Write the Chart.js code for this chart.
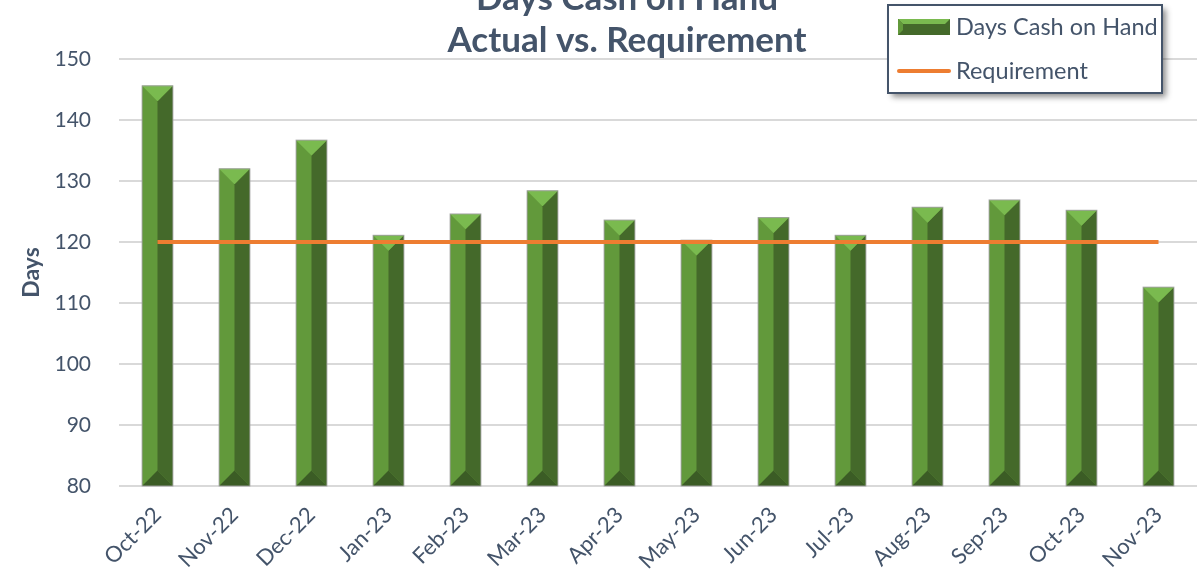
<!DOCTYPE html>
<html lang="en">
<head>
<meta charset="UTF-8">
<title>Days Cash on Hand</title>
<script src="https://cdn.jsdelivr.net/npm/chart.js"></script>
<style>
  html, body { margin: 0; padding: 0; background: #fff; }
  #wrap { width: 1201px; height: 569px; }
</style>
</head>
<body>
<div id="wrap"><canvas id="cashChart"></canvas></div>
<script>
// chart data
const months = ["Oct-22", "Nov-22", "Dec-22", "Jan-23", "Feb-23", "Mar-23", "Apr-23",
                "May-23", "Jun-23", "Jul-23", "Aug-23", "Sep-23", "Oct-23", "Nov-23"];
const daysCash = [145.6, 132.0, 136.7, 121.1, 124.6, 128.4, 123.6,
                  120.3, 124.0, 121.1, 125.7, 126.9, 125.2, 112.6];
const requirement = [120, 120, 120, 120, 120, 120, 120, 120, 120, 120, 120, 120, 120, 120];
const yMin = 80, yMax = 150, yStep = 10;
const titleLines = ["Days Cash on Hand", "Actual vs. Requirement"];
const yTitle = "Days";

const textColor = "#44546A";
const green = { left: "#62993B", right: "#44692A", top: "#7ABA4F", bottom: "#3B5C25" };

// bars are drawn as bevelled columns (light left face, dark right face)
const bevelBars = {
    id: "bevelBars",
    afterDatasetDraw(chart, args) {
        if (chart.data.datasets[args.index].type !== "bar") return;
        const ctx = chart.ctx;
        const area = chart.chartArea;
        ctx.save();
        args.meta.data.forEach(bar => {
            const p = bar.getProps(["x", "y", "base", "width"], true);
            const l = p.x - p.width / 2, r = p.x + p.width / 2, s = p.width / 2;
            const t = Math.max(p.y, area.top), b = Math.min(p.base, area.bottom);
            const poly = (pts, color) => {
                ctx.beginPath();
                ctx.moveTo(pts[0][0], pts[0][1]);
                pts.slice(1).forEach(q => ctx.lineTo(q[0], q[1]));
                ctx.closePath();
                ctx.fillStyle = color;
                ctx.fill();
            };
            poly([[l, t], [p.x, t + s], [p.x, b - s], [l, b]], green.left);
            poly([[r, t], [p.x, t + s], [p.x, b - s], [r, b]], green.right);
            poly([[l, t], [r, t], [p.x, t + s]], green.top);
            poly([[l, b], [r, b], [p.x, b - s]], green.bottom);
            ctx.strokeStyle = "rgba(160,160,160,0.9)";
            ctx.lineWidth = 1;
            ctx.strokeRect(l, t, p.width, b - t);
        });
        ctx.restore();
    }
};

// two line title, drawn partly above the top edge like the original
const chartTitle = {
    id: "chartTitle",
    afterDraw(chart) {
        const ctx = chart.ctx;
        ctx.save();
        ctx.fillStyle = textColor;
        ctx.font = "bold 35px Lato";
        ctx.textAlign = "center";
        ctx.textBaseline = "alphabetic";
        ctx.fillText(titleLines[0], 627, 10);
        ctx.fillText(titleLines[1], 627, 52);
        ctx.restore();
    }
};

// boxed legend in the top right corner
const boxLegend = {
    id: "boxLegend",
    afterDraw(chart) {
        const ctx = chart.ctx;
        const bx = 888, by = 5, bw = 274, bh = 88;
        ctx.save();
        ctx.shadowColor = "rgba(0,0,0,0.45)";
        ctx.shadowBlur = 6;
        ctx.shadowOffsetX = 4;
        ctx.shadowOffsetY = 4;
        ctx.fillStyle = "#fff";
        ctx.fillRect(bx, by, bw, bh);
        ctx.shadowColor = "transparent";
        ctx.strokeStyle = textColor;
        ctx.lineWidth = 2;
        ctx.strokeRect(bx, by, bw, bh);

        // bar swatch
        const sx = 898, sy = 19, sw = 52, sh = 16;
        ctx.fillStyle = green.right;
        ctx.fillRect(sx, sy, sw, sh);
        ctx.fillStyle = green.top;
        ctx.beginPath();
        ctx.moveTo(sx, sy); ctx.lineTo(sx + sw, sy);
        ctx.lineTo(sx + sw - 5, sy + 5); ctx.lineTo(sx + 5, sy + 5);
        ctx.closePath(); ctx.fill();
        ctx.fillStyle = green.left;
        ctx.beginPath();
        ctx.moveTo(sx, sy); ctx.lineTo(sx + 5, sy + 5);
        ctx.lineTo(sx + 5, sy + sh - 5); ctx.lineTo(sx, sy + sh);
        ctx.closePath(); ctx.fill();

        // line swatch
        ctx.strokeStyle = chart.data.datasets[1].borderColor;
        ctx.lineWidth = 4;
        ctx.lineCap = "round";
        ctx.beginPath();
        ctx.moveTo(899, 71); ctx.lineTo(949, 71);
        ctx.stroke();

        ctx.fillStyle = textColor;
        ctx.font = "23.5px Lato";
        ctx.textAlign = "left";
        ctx.textBaseline = "middle";
        ctx.fillText(chart.data.datasets[0].label, 956, 27);
        ctx.fillText(chart.data.datasets[1].label, 956, 71);
        ctx.restore();
    }
};

const ctx = document.getElementById("cashChart").getContext("2d");
new Chart(ctx, {
    data: {
        labels: months,
        datasets: [
            {
                type: "bar",
                label: "Days Cash on Hand",
                data: daysCash,
                backgroundColor: green.left,
                barPercentage: 0.4,
                categoryPercentage: 1.0,
                order: 2
            },
            {
                type: "line",
                label: "Requirement",
                data: requirement,
                borderColor: "#ED7D31",
                borderWidth: 4,
                pointRadius: 0,
                order: 1
            }
        ]
    },
    options: {
        responsive: true,
        maintainAspectRatio: false,
        animation: false,
        layout: { padding: { top: 59, right: 4, left: 0, bottom: 0 } },
        plugins: {
            legend: { display: false },
            tooltip: { enabled: false }
        },
        scales: {
            x: {
                grid: { display: false },
                border: { display: false },
                ticks: {
                    color: textColor,
                    font: { family: "Lato", size: 22 },
                    maxRotation: 45,
                    minRotation: 45,
                    padding: 8
                },
                afterFit: s => { s.height = 83; }
            },
            y: {
                min: yMin,
                max: yMax,
                border: { display: false },
                grid: { color: "#D9D9D9", lineWidth: 2, drawTicks: false },
                ticks: {
                    stepSize: yStep,
                    color: textColor,
                    font: { family: "Lato", size: 21 },
                    padding: 28
                },
                title: {
                    display: true,
                    text: yTitle,
                    color: textColor,
                    font: { family: "Lato", size: 23, weight: "bold" },
                    padding: { top: 18, bottom: 0 }
                },
                afterFit: s => { s.width = 119; }
            }
        }
    },
    plugins: [bevelBars, chartTitle, boxLegend]
});
</script>
</body>
</html>
